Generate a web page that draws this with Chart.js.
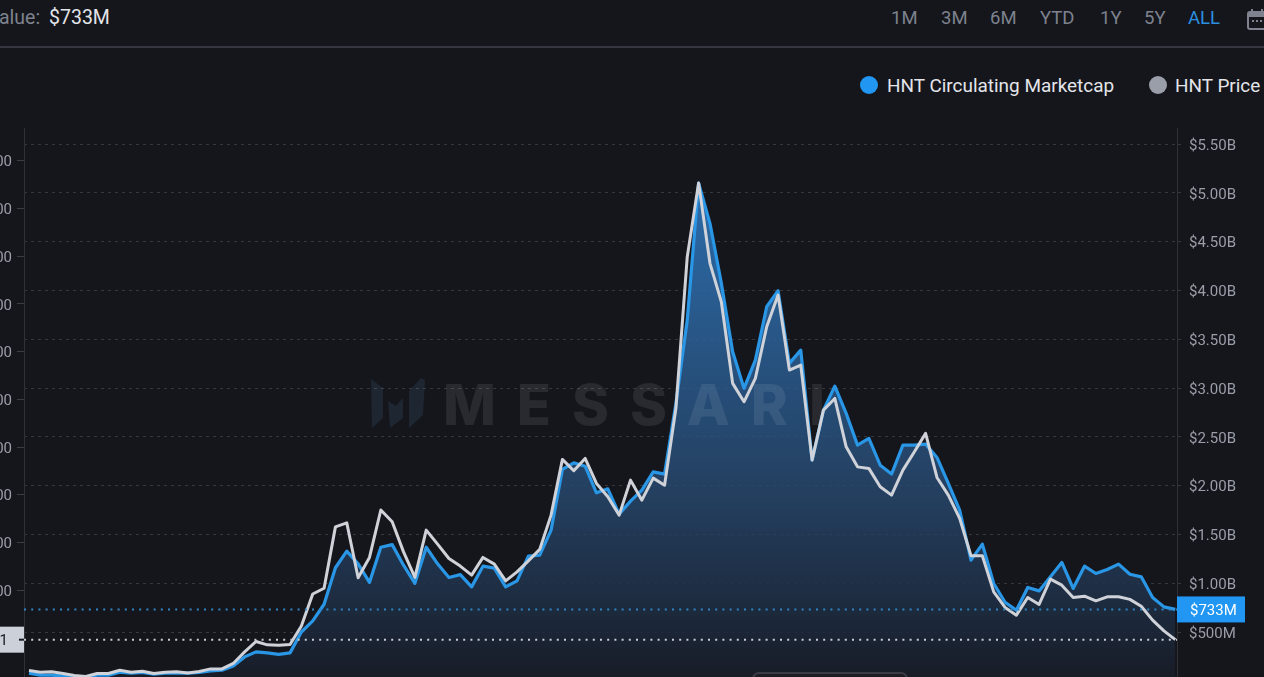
<!DOCTYPE html>
<html>
<head>
<meta charset="utf-8">
<script src="https://cdn.jsdelivr.net/npm/chart.js@4"></script>
<style>
  html, body { margin: 0; padding: 0; width: 1264px; height: 677px; overflow: hidden; background: #15161c; }
  body { position: relative; font-family: Roboto, sans-serif; }
  .abs { position: absolute; white-space: nowrap; }
  .range { top: 7px; font-size: 18.5px; line-height: 22px; color: #7d828e; }
  .legend-text { top: 74px; font-size: 18.95px; line-height: 23px; color: #e3e5ea; }
  .dot { top: 76px; width: 18px; height: 18px; border-radius: 50%; }
  #divider { left: 0; top: 46px; width: 1264px; height: 2px; background: #35363f; }
  #mark { left: 443px; top: 372px; font-size: 56px; line-height: 66px; font-weight: 800; font-family: Inter, sans-serif; letter-spacing: 21px; color: rgba(255,255,255,0.085); }
  #logo { left: 370px; top: 378px; }
  #chartWrap { left: -40px; top: 128px; width: 1304px; height: 553px; }
  #pill { left: 752px; top: 672px; width: 152px; height: 30px; border: 2px solid #3a3b44; border-radius: 7px; background: #1c1d24; }
</style>
</head>
<body>
  <div class="abs range" style="left:-1px;font-size:19.5px;top:7px">alue:</div>
  <div class="abs range" style="left:49px;font-size:19.5px;top:7px;color:#e3e5ea">$733M</div>
  <div class="abs range" style="left:891px">1M</div>
  <div class="abs range" style="left:941px">3M</div>
  <div class="abs range" style="left:990px">6M</div>
  <div class="abs range" style="left:1040px">YTD</div>
  <div class="abs range" style="left:1100px">1Y</div>
  <div class="abs range" style="left:1144px">5Y</div>
  <div class="abs range" style="left:1188px;color:#2a8fe0">ALL</div>
  <svg class="abs" style="left:1246px;top:7px" width="20" height="24" viewBox="0 0 20 24">
    <rect x="2" y="5" width="20" height="17" rx="2" fill="none" stroke="#7d828e" stroke-width="2"/>
    <rect x="2" y="5" width="20" height="5" fill="#7d828e"/>
    <rect x="5" y="2" width="2" height="4" fill="#7d828e"/>
    <rect x="15" y="2" width="2" height="4" fill="#7d828e"/>
    <path d="M6 14h2M10 14h2M14 14h2" stroke="#7d828e" stroke-width="2"/>
  </svg>
  <div class="abs" id="divider"></div>

  <div class="abs dot" style="left:860px;background:#2196f3"></div>
  <div class="abs legend-text" style="left:887px">HNT Circulating Marketcap</div>
  <div class="abs dot" style="left:1149px;background:#9a9ea9"></div>
  <div class="abs legend-text" style="left:1175px">HNT Price</div>

  <svg class="abs" id="logo" width="56" height="52" viewBox="0 0 56 52">
    <path d="M1 1 L13 10 V40 L2 50 Z M18 23 L26 28 L33 20 V40 L20 50 Z M39 13 L51 0 L55 2 L53 37 L39 50 Z" fill="#1e2631"/>
  </svg>

  <div class="abs" id="chartWrap"><canvas id="hntChart" width="1304" height="553"></canvas></div>
  <div class="abs" id="mark">MESSARI</div>
  <div class="abs" id="pill"></div>

<script>
// HNT circulating marketcap, in billions of dollars
const marketcap = [
  0.08, 0.06, 0.06, 0.05, 0.035, 0.04, 0.06, 0.06, 0.09, 0.08,
  0.087, 0.07, 0.08, 0.08, 0.08, 0.087, 0.103, 0.11, 0.154, 0.247,
  0.298, 0.288, 0.272, 0.288, 0.502, 0.615, 0.786, 1.16, 1.33, 1.20,
  1.01, 1.37, 1.397, 1.186, 1.00, 1.37, 1.20, 1.06, 1.09, 0.964,
  1.176, 1.156, 0.964, 1.026, 1.279, 1.289, 1.545, 2.167, 2.235, 2.20,
  1.927, 1.968, 1.709, 1.842, 1.955, 2.142, 2.119, 2.843, 3.697, 5.10,
  4.687, 4.075, 3.372, 2.997, 3.287, 3.833, 3.997, 3.253, 3.389, 2.262,
  2.775, 3.02, 2.741, 2.416, 2.485, 2.211, 2.119, 2.416, 2.416, 2.426,
  2.29, 2.024, 1.75, 1.238, 1.402, 0.999, 0.807, 0.725, 0.958, 0.923,
  1.067, 1.214, 0.948, 1.176, 1.101, 1.142, 1.197, 1.094, 1.067, 0.856,
  0.759, 0.733
];

// HNT price, in dollars
const price = [
  1.58, 1.40, 1.44, 1.27, 1.06, 0.95, 1.27, 1.27, 1.61, 1.40,
  1.51, 1.27, 1.40, 1.44, 1.33, 1.48, 1.75, 1.75, 2.32, 3.53,
  4.62, 4.27, 4.23, 4.31, 6.25, 9.6, 10.2, 16.63, 17.05, 11.3,
  13.43, 18.4, 17.16, 14.01, 11.33, 16.29, 14.82, 13.32, 12.52, 11.57,
  13.43, 12.73, 10.97, 11.92, 13.07, 14.27, 17.86, 23.70, 22.51, 23.80,
  21.18, 19.78, 17.86, 21.53, 19.43, 21.74, 21.0, 29.05, 44.94, 52.66,
  44.25, 40.22, 31.67, 29.74, 32.19, 37.6, 40.92, 33.06, 33.58, 23.63,
  28.87, 30.09, 25.02, 22.92, 22.76, 20.83, 19.96, 22.58, 24.47, 26.43,
  21.81, 19.96, 17.52, 13.6, 13.6, 9.82, 8.19, 7.38, 9.23, 8.50,
  11.15, 10.52, 9.23, 9.37, 8.88, 9.30, 9.30, 9.03, 8.32, 6.86,
  5.73, 4.81
];

const rightTicks = [0.5, 1, 1.5, 2, 2.5, 3, 3.5, 4, 4.5, 5, 5.5];
const rightLabels = ["$500M", "$1.00B", "$1.50B", "$2.00B", "$2.50B", "$3.00B", "$3.50B", "$4.00B", "$4.50B", "$5.00B", "$5.50B"];
const leftTicks = [10, 15, 20, 25, 30, 35, 40, 45, 50, 55];
const leftLabels = ["$10.00", "$15.00", "$20.00", "$25.00", "$30.00", "$35.00", "$40.00", "$45.00", "$50.00", "$55.00"];

const lastMarketcapLabel = "$733M";
const lastPriceLabel = "$4.81";

const tickFont = { family: "Roboto", size: 15 };
const tickColor = "#9a9ea8";

function areaGradient(context) {
  const area = context.chart.chartArea;
  if (!area) return "transparent";
  const g = context.chart.ctx.createLinearGradient(0, area.top, 0, area.bottom);
  g.addColorStop(0, "rgba(45,120,195,0.95)");
  g.addColorStop(0.3, "rgba(45,105,165,0.85)");
  g.addColorStop(0.65, "rgba(40,75,115,0.8)");
  g.addColorStop(1, "rgba(24,28,38,0.9)");
  return g;
}

// dotted last value lines and the two price tags on the axes
const lastValueTags = {
  id: "lastValueTags",
  afterDatasetsDraw(chart) {
    const { ctx, chartArea, scales } = chart;
    const capY = scales.cap.getPixelForValue(marketcap[marketcap.length - 1]);
    const priceY = scales.usd.getPixelForValue(price[price.length - 1]);

    ctx.save();
    ctx.lineWidth = 2;
    ctx.setLineDash([2, 5.2]);
    ctx.strokeStyle = "#2f86c6";
    ctx.beginPath();
    ctx.moveTo(chartArea.left, capY);
    ctx.lineTo(chartArea.right, capY);
    ctx.stroke();
    ctx.strokeStyle = "#c9ccd3";
    ctx.beginPath();
    ctx.moveTo(chartArea.left, priceY);
    ctx.lineTo(chartArea.right, priceY);
    ctx.stroke();
    ctx.setLineDash([]);

    ctx.font = "15px Roboto";
    ctx.textBaseline = "middle";

    ctx.fillStyle = "#2196f3";
    ctx.fillRect(chartArea.right, capY - 13, 68, 26);
    ctx.fillStyle = "#ffffff";
    ctx.textAlign = "left";
    ctx.fillText(lastMarketcapLabel, chartArea.right + 13, capY + 2);

    ctx.fillStyle = "#ccd0d8";
    ctx.fillRect(chartArea.left - 64, priceY - 13, 64, 26);
    ctx.fillStyle = "#15161c";
    ctx.textAlign = "right";
    ctx.fillText(lastPriceLabel, chartArea.left - 16, priceY + 2);
    ctx.fillRect(chartArea.left - 5, priceY - 1, 5, 2);
    ctx.restore();
  }
};

new Chart(document.getElementById("hntChart"), {
  type: "line",
  data: {
    datasets: [
      {
        label: "HNT Price",
        yAxisID: "usd",
        data: price.map((v, i) => ({ x: i, y: v })),
        borderColor: "#cfd2d8",
        borderWidth: 3,
        borderJoinStyle: "round",
        pointRadius: 0,
        tension: 0,
        fill: false,
        order: 1
      },
      {
        label: "HNT Circulating Marketcap",
        yAxisID: "cap",
        data: marketcap.map((v, i) => ({ x: i, y: v })),
        borderColor: "#2a96e6",
        borderWidth: 3.2,
        borderJoinStyle: "round",
        pointRadius: 0,
        tension: 0,
        fill: "origin",
        backgroundColor: areaGradient,
        order: 2
      }
    ]
  },
  options: {
    responsive: false,
    animation: false,
    layout: { padding: 0 },
    plugins: { legend: { display: false }, tooltip: { enabled: false } },
    scales: {
      x: { type: "linear", display: false, min: -0.44, max: 101.15 },
      usd: {
        position: "left",
        min: 0.48,
        max: 58.43,
        afterBuildTicks: scale => { scale.ticks = leftTicks.map(v => ({ value: v })); },
        afterFit: scale => { scale.width = 64; scale.paddingTop = 0; scale.paddingBottom = 0; },
        grid: { drawOnChartArea: false, tickLength: 7, tickColor: "#3a3b44" },
        border: { color: "#2f3038" },
        ticks: {
          autoSkip: false,
          padding: 5,
          labelOffset: 2,
          color: tickColor,
          font: tickFont,
          callback: (value, index) => leftLabels[index]
        }
      },
      cap: {
        position: "right",
        min: 0,
        max: 5.664,
        afterBuildTicks: scale => { scale.ticks = rightTicks.map(v => ({ value: v })); },
        afterFit: scale => { scale.width = 87; scale.paddingTop = 0; scale.paddingBottom = 0; },
        grid: {
          color: "rgba(255,255,255,0.15)",
          tickColor: "rgba(255,255,255,0.15)",
          tickLength: 6,
          tickBorderDash: [3, 4]
        },
        border: { color: "#2f3038", dash: [3, 4] },
        ticks: {
          autoSkip: false,
          padding: 6,
          labelOffset: 2,
          color: tickColor,
          font: tickFont,
          callback: (value, index) => rightLabels[index]
        }
      }
    }
  },
  plugins: [lastValueTags]
});
</script>
</body>
</html>
